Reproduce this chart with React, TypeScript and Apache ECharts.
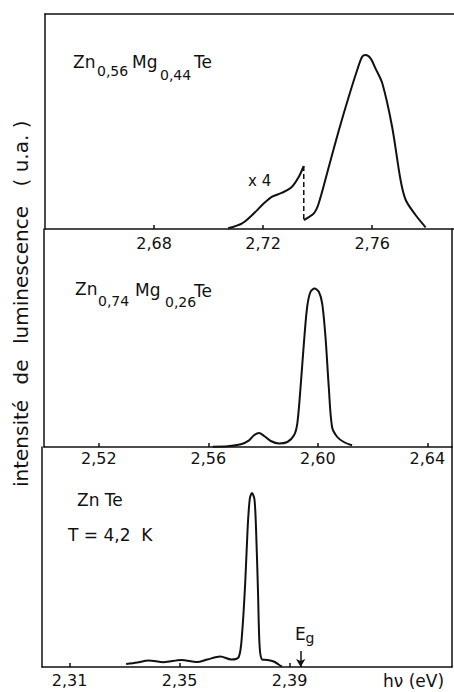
import React, { useEffect, useRef } from "react";
import * as echarts from "echarts";

// ---------- data ----------
// Panel 1 : Zn0,56Mg0,44Te  (low-energy part shown x4, then main band)
const zn56LowEnergy = [2.7072, 2.7123, 2.716, 2.7203, 2.7233, 2.727, 2.7306, 2.7331, 2.7349];
const zn56LowIntensity = [0.7, 5.7, 14, 25.7, 32.3, 36.3, 42.3, 52.3, 63];
const zn56MainEnergy = [2.7349, 2.7386, 2.7404, 2.7441, 2.7478, 2.7514, 2.7545, 2.7563, 2.7576, 2.7594, 2.7612, 2.7637, 2.7673, 2.7704, 2.7723, 2.7759, 2.7796];
const zn56MainIntensity = [9, 15.7, 25.7, 62.3, 99, 132.3, 159, 172.3, 174, 170.7, 160.7, 145.7, 102.3, 49, 29, 14, 1.7];
const zn56JoinEnergy = [2.7349, 2.7349];
const zn56JoinIntensity = [63, 9];

// Panel 2 : Zn0,74Mg0,26Te
const zn74Energy = [2.5616, 2.5671, 2.5719, 2.5749, 2.5767, 2.5785, 2.5804, 2.5828, 2.5858, 2.5889, 2.5913, 2.5925, 2.5937, 2.5949, 2.5961, 2.5973, 2.5988, 2.6004, 2.6016, 2.6028, 2.604, 2.6052, 2.6071, 2.6095, 2.6125];
const zn74Intensity = [0.3, 0.7, 2.7, 6.7, 11.7, 14, 11, 6, 3.4, 5, 11.7, 23.4, 60, 103.4, 140, 155, 158.4, 155, 143.4, 110, 60, 20, 10, 5, 1.7];

// Panel 3 : ZnTe, T = 4,2 K
const znTeEnergy = [2.3306, 2.3346, 2.3387, 2.3442, 2.3506, 2.3563, 2.3601, 2.3648, 2.3688, 2.3715, 2.3727, 2.3739, 2.3747, 2.3755, 2.3763, 2.3772, 2.3778, 2.3785, 2.3791, 2.38, 2.3818, 2.3842, 2.386, 2.3872];
const znTeIntensity = [3, 4.5, 6.5, 4.8, 7, 5, 7.5, 10.5, 7.5, 10, 33, 87, 137, 168, 174, 168, 137, 75, 20, 7.5, 7, 5.5, 2.5, 0.3];

const egEnergy = 2.394;
const egArrowTop = 16;

// axis ranges and tick labels
const panel1Range = [2.64, 2.79];
const panel2Range = [2.5, 2.649];
const panel3Range = [2.3, 2.449];
const panel1Ticks = [2.68, 2.72, 2.76];
const panel2Ticks = [2.52, 2.56, 2.6, 2.64];
const panel3Ticks = [2.31, 2.35, 2.39];
const panelHeights = [215, 218, 220];

const INK = "#111";
const FONT = "DejaVu Sans";

const zip = (xs: number[], ys: number[]) => xs.map((x, i) => [x, ys[i]]);
const fmt = (v: number) => v.toFixed(2).replace(".", ",");

function bottomAxis(gridIndex: number, range: number[], ticks: number[], margin: number) {
  return {
    type: "value",
    gridIndex,
    position: "bottom",
    min: range[0],
    max: range[1],
    axisLine: { show: true, onZero: false, lineStyle: { color: INK, width: 1.5 } },
    axisTick: { show: true, inside: true, length: 4, customValues: ticks, lineStyle: { color: INK, width: 1.5 } },
    axisLabel: { show: true, customValues: ticks, margin, formatter: fmt, fontFamily: FONT, fontSize: 16, color: INK },
    splitLine: { show: false },
  };
}

function frameAxis(gridIndex: number, position: string, range: number[]) {
  return {
    type: "value",
    gridIndex,
    position,
    min: range[0],
    max: range[1],
    axisLine: { show: true, onZero: false, lineStyle: { color: INK, width: 1.5 } },
    axisTick: { show: false },
    axisLabel: { show: false },
    splitLine: { show: false },
  };
}

function txt(text: string, x: number, y: number, size: number, extra: any = {}) {
  return {
    type: "text",
    x,
    y,
    silent: true,
    ...extra,
    style: {
      text,
      fill: INK,
      fontFamily: FONT,
      fontSize: size,
      align: extra.align || "left",
      verticalAlign: "middle",
    },
  };
}

function lineSeries(name: string, data: number[][], xi: number, yi: number, extra: any = {}) {
  return {
    name,
    type: "line",
    xAxisIndex: xi,
    yAxisIndex: yi,
    data,
    smooth: 0.3,
    symbol: "none",
    silent: true,
    lineStyle: { color: INK, width: 2 },
    ...extra,
  };
}

export default function App() {
  const ref = useRef<HTMLDivElement>(null);

  useEffect(() => {
    if (!ref.current) return;
    const chart = echarts.init(ref.current, null, { renderer: "svg" });

    const option: any = {
      animation: false,
      backgroundColor: "#fff",
      grid: [
        { left: 45, top: 14, width: 409, height: panelHeights[0] },
        { left: 44, top: 229, width: 408, height: panelHeights[1] },
        { left: 42, top: 447, width: 410, height: panelHeights[2] },
      ],
      xAxis: [
        bottomAxis(0, panel1Range, panel1Ticks, 6),
        frameAxis(0, "top", panel1Range),
        bottomAxis(1, panel2Range, panel2Ticks, 3),
        bottomAxis(2, panel3Range, panel3Ticks, 5),
      ],
      yAxis: [
        frameAxis(0, "left", [0, panelHeights[0]]),
        frameAxis(1, "left", [0, panelHeights[1]]),
        frameAxis(1, "right", [0, panelHeights[1]]),
        frameAxis(2, "left", [0, panelHeights[2]]),
        frameAxis(2, "right", [0, panelHeights[2]]),
      ],
      series: [
        lineSeries("Zn0.56Mg0.44Te x4", zip(zn56LowEnergy, zn56LowIntensity), 0, 0),
        lineSeries("join", zip(zn56JoinEnergy, zn56JoinIntensity), 0, 0, {
          smooth: false,
          lineStyle: { color: INK, width: 1.5, type: [5, 3] },
        }),
        lineSeries("Zn0.56Mg0.44Te", zip(zn56MainEnergy, zn56MainIntensity), 0, 0),
        lineSeries("Zn0.74Mg0.26Te", zip(zn74Energy, zn74Intensity), 2, 1),
        lineSeries("ZnTe", zip(znTeEnergy, znTeIntensity), 3, 3, {
          markLine: {
            silent: true,
            symbol: ["none", "arrow"],
            symbolSize: [7, 8],
            label: { show: false },
            lineStyle: { color: INK, width: 1.5, type: "solid" },
            data: [[{ coord: [egEnergy, egArrowTop] }, { coord: [egEnergy, 0] }]],
          },
        }),
      ],
      graphic: [
        // panel 1 label
        txt("Zn", 73, 61.5, 17),
        txt("0,56", 97, 71, 14),
        txt("Mg", 132, 61.5, 17),
        txt("0,44", 160, 74.5, 14),
        txt("Te", 194, 62, 17),
        txt("x 4", 248, 181, 15),
        // panel 2 label
        txt("Zn", 75, 289, 17),
        txt("0,74", 98, 301, 14),
        txt("Mg", 135, 290, 17),
        txt("0,26", 165, 302, 14),
        txt("Te", 194, 290.5, 17),
        // panel 3 labels
        txt("Zn Te", 77, 500, 17),
        txt("T = 4,2  K", 68, 535, 17),
        txt("E", 295, 633.5, 17),
        txt("g", 305.5, 638, 14),
        // x unit
        txt("hν (eV)", 383, 681, 17),
        // y label (rotated)
        txt("intensité", 21, 443.5, 20, { rotation: Math.PI / 2, align: "center" }),
        txt("de", 21, 372, 20, { rotation: Math.PI / 2, align: "center" }),
        txt("luminescence", 21, 275, 20, { rotation: Math.PI / 2, align: "center" }),
        txt("( u.a. )", 21, 153.5, 20, { rotation: Math.PI / 2, align: "center" }),
      ],
    };

    chart.setOption(option);
    return () => chart.dispose();
  }, []);

  return (
    <div
      ref={ref}
      style={{ position: "fixed", left: 0, top: 0, width: 454, height: 692, background: "#fff" }}
    />
  );
}
